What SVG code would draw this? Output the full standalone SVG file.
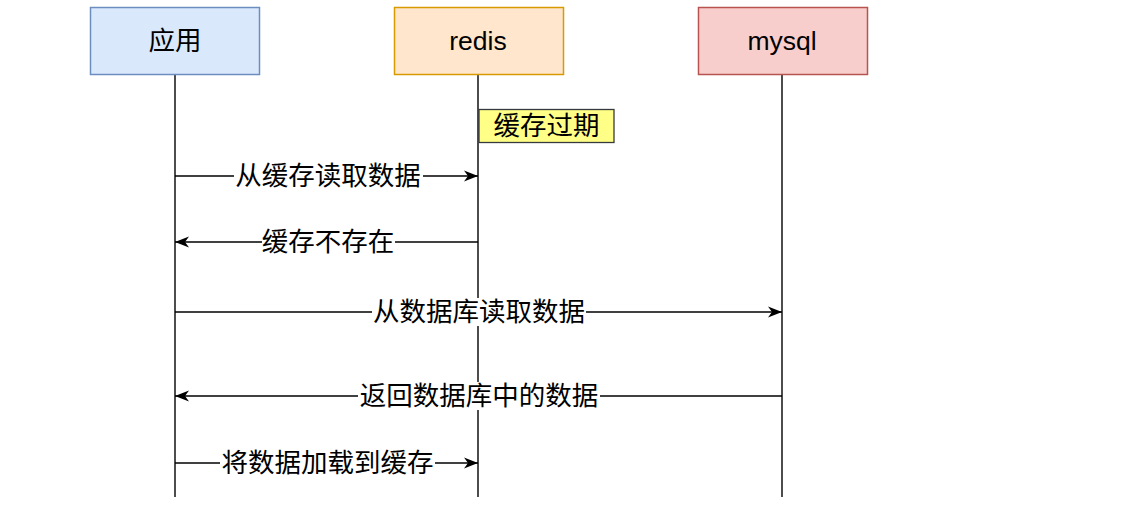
<svg xmlns="http://www.w3.org/2000/svg" width="1127" height="505" viewBox="0 0 1127 505">
<style>
  .box{stroke-width:1.5}
  .t{font-family:"Liberation Sans","Noto Sans CJK SC",sans-serif;font-size:26.5px;fill:#000;text-anchor:middle;dominant-baseline:central}
  .life{stroke:#4d4d4d;stroke-width:2;fill:none}
  .msg{stroke:#000;stroke-width:1.4;fill:none}
  .lblbg{fill:#fff}
</style>
<defs>
  <marker id="arr" viewBox="0 0 15 12" refX="14" refY="6" markerWidth="15" markerHeight="12" markerUnits="userSpaceOnUse" orient="auto">
    <path d="M0,0.5 L14,6 L0,11.5 L4,6 Z" fill="#000"/>
  </marker>
</defs>
<rect width="1127" height="505" fill="#fff"/>
<g id="lifelines">
  <line class="life" x1="175" y1="75" x2="175" y2="497"/>
  <line class="life" x1="478" y1="75" x2="478" y2="497"/>
  <line class="life" x1="782" y1="75" x2="782" y2="497"/>
</g>
<g id="node-app">
  <rect class="box" x="90.5" y="7.5" width="169" height="67" fill="#dae8fc" stroke="#6c8ebf"/>
  <text class="t" x="175" y="41">应用</text>
</g>
<g id="node-redis">
  <rect class="box" x="394.5" y="7.5" width="169" height="67" fill="#ffe6cc" stroke="#d79b00"/>
  <text class="t" x="478" y="41">redis</text>
</g>
<g id="node-mysql">
  <rect class="box" x="698.5" y="7.5" width="169" height="67" fill="#f8cecc" stroke="#b85450"/>
  <text class="t" x="782" y="41">mysql</text>
</g>
<g id="node-expire">
  <rect x="479" y="109.5" width="135" height="33" fill="#ffff88" stroke="#36393d" stroke-width="1.3"/>
  <text class="t" x="546.5" y="126">缓存过期</text>
</g>
<g id="connectors">
  <g id="m1">
    <line class="msg" x1="175" y1="176" x2="478" y2="176" marker-end="url(#arr)"/>
    <rect class="lblbg" x="234" y="162" width="189" height="28"/>
    <text class="t" x="328" y="176">从缓存读取数据</text>
  </g>
  <g id="m2">
    <line class="msg" x1="478" y1="242" x2="175" y2="242" marker-end="url(#arr)"/>
    <rect class="lblbg" x="262" y="228" width="133" height="28"/>
    <text class="t" x="328" y="242">缓存不存在</text>
  </g>
  <g id="m3">
    <line class="msg" x1="175" y1="312" x2="782" y2="312" marker-end="url(#arr)"/>
    <rect class="lblbg" x="372" y="298" width="214" height="28"/>
    <text class="t" x="479" y="312">从数据库读取数据</text>
  </g>
  <g id="m4">
    <line class="msg" x1="782" y1="396" x2="175" y2="396" marker-end="url(#arr)"/>
    <rect class="lblbg" x="358" y="382" width="242" height="28"/>
    <text class="t" x="479" y="396">返回数据库中的数据</text>
  </g>
  <g id="m5">
    <line class="msg" x1="175" y1="463" x2="478" y2="463" marker-end="url(#arr)"/>
    <rect class="lblbg" x="220" y="449" width="215" height="28"/>
    <text class="t" x="327.5" y="463">将数据加载到缓存</text>
  </g>
</g>
</svg>
